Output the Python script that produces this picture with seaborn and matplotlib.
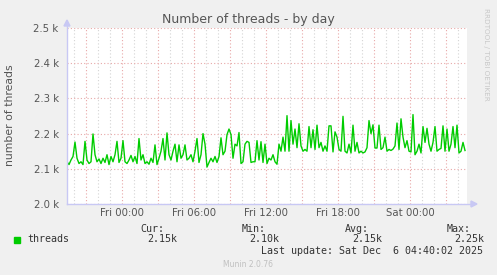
import matplotlib
matplotlib.use("Agg")
import matplotlib.pyplot as plt
import seaborn as sns
import pandas as pd
import numpy as np

# ---- data (threads, in thousands), one sample every 10 minutes ----
start_hour = -4.583          # hours relative to Fri 00:00
step_hours = 1.0 / 6.0
threads = [
    2.120, 2.112, 2.125, 2.135, 2.176, 2.130, 2.115, 2.120, 2.112, 2.178,
    2.125, 2.115, 2.120, 2.199, 2.140, 2.120, 2.128, 2.115, 2.130, 2.118,
    2.140, 2.112, 2.135, 2.120, 2.140, 2.178, 2.118, 2.130, 2.180, 2.120,
    2.115, 2.125, 2.138, 2.120, 2.135, 2.115, 2.186, 2.125, 2.140, 2.115,
    2.120, 2.113, 2.130, 2.118, 2.168, 2.112, 2.130, 2.150, 2.186, 2.125,
    2.202, 2.140, 2.125, 2.150, 2.170, 2.120, 2.168, 2.130, 2.140, 2.168,
    2.125, 2.130, 2.140, 2.120, 2.150, 2.186, 2.118, 2.140, 2.200, 2.170,
    2.105, 2.118, 2.130, 2.120, 2.135, 2.118, 2.135, 2.188, 2.140, 2.150,
    2.197, 2.213, 2.197, 2.130, 2.170, 2.165, 2.203, 2.115, 2.120, 2.170,
    2.178, 2.175, 2.118, 2.120, 2.120, 2.180, 2.125, 2.177, 2.118, 2.170,
    2.115, 2.130, 2.125, 2.140, 2.120, 2.113, 2.170, 2.150, 2.190, 2.150,
    2.251, 2.150, 2.237, 2.170, 2.213, 2.160, 2.228, 2.165, 2.150, 2.155,
    2.150, 2.220, 2.160, 2.211, 2.155, 2.224, 2.160, 2.175, 2.150, 2.165,
    2.150, 2.222, 2.222, 2.148, 2.205, 2.190, 2.155, 2.150, 2.249, 2.150,
    2.145, 2.170, 2.145, 2.224, 2.150, 2.175, 2.145, 2.150, 2.145, 2.148,
    2.160, 2.237, 2.200, 2.225, 2.159, 2.159, 2.224, 2.155, 2.160, 2.190,
    2.150, 2.155, 2.152, 2.156, 2.165, 2.230, 2.155, 2.242, 2.190, 2.160,
    2.180, 2.150, 2.148, 2.254, 2.140, 2.150, 2.170, 2.145, 2.220, 2.175,
    2.215, 2.170, 2.150, 2.175, 2.220, 2.150, 2.155, 2.158, 2.222, 2.150,
    2.213, 2.150, 2.170, 2.220, 2.160, 2.224, 2.145, 2.150, 2.175, 2.152,
]
y_ticks = [2.0, 2.1, 2.2, 2.3, 2.4, 2.5]
y_tick_labels = ["2.0 k", "2.1 k", "2.2 k", "2.3 k", "2.4 k", "2.5 k"]
x_ticks = [0, 6, 12, 18, 24]
x_tick_labels = ["Fri 00:00", "Fri 06:00", "Fri 12:00", "Fri 18:00", "Sat 00:00"]
legend_stats = {"Cur:": "2.15k", "Min:": "2.10k", "Avg:": "2.15k", "Max:": "2.25k"}
series_name = "threads"

df = pd.DataFrame({
    "hour": [start_hour + i * step_hours for i in range(len(threads))],
    "threads": threads,
})

W, H = 497, 275
BG = "#f0f0f0"
fig = plt.figure(figsize=(W / 100, H / 100), dpi=100, facecolor=BG)
L, R, T, B = 67, 467, 28, 204
ax = fig.add_axes([L / W, 1 - B / H, (R - L) / W, (B - T) / H])
ax.set_facecolor("white")

x_min, x_max = start_hour, (R - 122) / 12.0
ax.set_xlim(x_min, x_max)
ax.set_ylim(2.0, 2.5)

# grid: minor gray every hour, major red every 3 hours; red horizontal at 0.1k
for h in range(int(np.ceil(x_min)), int(np.floor(x_max)) + 1):
    col = "#e8a8a8" if h % 3 == 0 else "#d4d4d4"
    ax.axvline(h, color=col, lw=0.8, ls=(0, (1, 2)), zorder=1)
for yv in y_ticks:
    ax.axhline(yv, color="#e8a8a8", lw=0.8, ls=(0, (1, 2)), zorder=1)

sns.lineplot(data=df, x="hour", y="threads", ax=ax, color="#00cc00",
             lw=1.0, zorder=3)

for s in ax.spines.values():
    s.set_visible(False)
ax.set_xticks(x_ticks)
ax.set_xticklabels(x_tick_labels)
ax.set_yticks(y_ticks)
ax.set_yticklabels(y_tick_labels)
ax.tick_params(axis="both", length=0, labelsize=7.3, labelcolor="#555555")
ax.tick_params(axis="x", pad=3)
ax.tick_params(axis="y", pad=6)
ax.set_xlabel("")
ax.set_ylabel("")

# axis arrows
ac = "#c8c8f4"
fig.add_artist(plt.Line2D([L / W, L / W], [1 - B / H, 1 - 24 / H],
                          color=ac, lw=1, transform=fig.transFigure))
fig.add_artist(plt.Line2D([L / W, 472 / W], [1 - B / H, 1 - B / H],
                          color=ac, lw=1, transform=fig.transFigure))
fig.add_artist(plt.Polygon([[(L - 3) / W, 1 - 26 / H], [(L + 3) / W, 1 - 26 / H],
                            [L / W, 1 - 20 / H]], closed=True, color=ac,
                           transform=fig.transFigure))
fig.add_artist(plt.Polygon([[471 / W, 1 - (B - 3) / H], [471 / W, 1 - (B + 3) / H],
                            [477 / W, 1 - B / H]], closed=True, color=ac,
                           transform=fig.transFigure))

# texts
fig.text(248 / W, 1 - 19 / H, "Number of threads - by day", ha="center", va="center",
         fontsize=9, color="#555555")
fig.text(10 / W, 1 - 115 / H, "number of threads", rotation=90, ha="center",
         va="center", fontsize=7.8, color="#555555")
fig.text(486 / W, 1 - 54 / H, "RRDTOOL / TOBI OETIKER", rotation=270, ha="center",
         va="center", fontsize=5.2, color="#c8c8c8")

mono = "DejaVu Sans Mono"
fs = 7.2
tc = "#333333"
fig.add_artist(plt.Rectangle((14 / W, 1 - 242.5 / H), 6 / W, 6 / H,
                             color="#00cc00", transform=fig.transFigure))
fig.text(27 / W, 1 - 239.5 / H, series_name, family=mono, fontsize=fs, color=tc,
         va="center", ha="left")
head_x = [140, 242, 345, 447]
for (k, v), hx in zip(legend_stats.items(), head_x):
    fig.text(hx / W, 1 - 228.5 / H, k, family=mono, fontsize=fs, color=tc,
             va="center", ha="left")
    fig.text((hx + 7) / W, 1 - 239.5 / H, v, family=mono, fontsize=fs, color=tc,
             va="center", ha="left")
fig.text(261 / W, 1 - 251 / H, "Last update: Sat Dec  6 04:40:02 2025", family=mono,
         fontsize=fs, color=tc, va="center", ha="left")
fig.text(248 / W, 1 - 264.5 / H, "Munin 2.0.76", fontsize=5.5, color="#c0c0c0",
         ha="center", va="center")

fig.savefig("out.png", dpi=100, facecolor=BG)
